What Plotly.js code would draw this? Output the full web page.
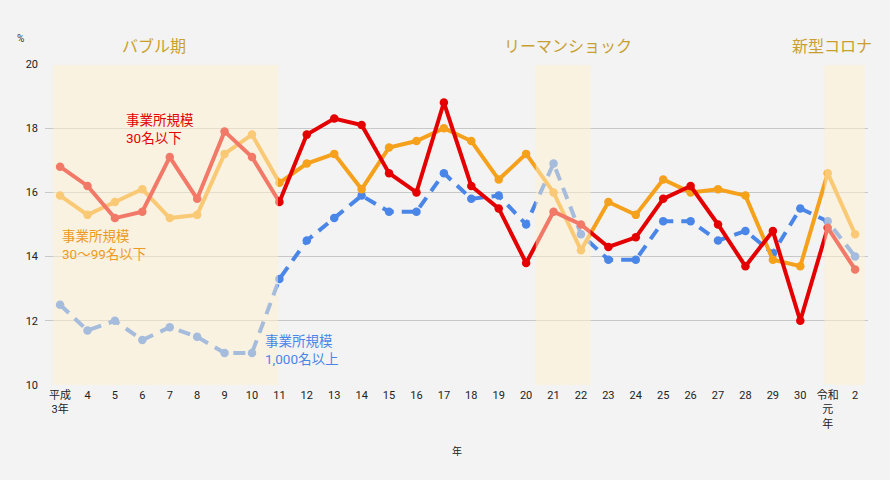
<!DOCTYPE html>
<html><head><meta charset="utf-8">
<script src="https://cdn.plot.ly/plotly-3.0.1.min.js"></script>
<style>html,body{margin:0;padding:0;background:#f3f3f3;}#chart{width:890px;height:480px;}</style>
</head><body><div id="chart"></div>
<script>
const years = ['平成<br>3年','4','5','6','7','8','9','10','11','12','13','14','15','16','17','18','19','20','21','22','23','24','25','26','27','28','29','30','令和<br>元<br>年','2'];
const small = [16.8,16.2,15.2,15.4,17.1,15.8,17.9,17.1,15.7,17.8,18.3,18.1,16.6,16.0,18.8,16.2,15.5,13.8,15.4,15.0,14.3,14.6,15.8,16.2,15.0,13.7,14.8,12.0,14.9,13.6];
const mid = [15.9,15.3,15.7,16.1,15.2,15.3,17.2,17.8,16.3,16.9,17.2,16.1,17.4,17.6,18.0,17.6,16.4,17.2,16.0,14.2,15.7,15.3,16.4,16.0,16.1,15.9,13.9,13.7,16.6,14.7];
const large = [12.5,11.7,12.0,11.4,11.8,11.5,11.0,11.0,13.3,14.5,15.2,15.9,15.4,15.4,16.6,15.8,15.9,15.0,16.9,14.7,13.9,13.9,15.1,15.1,14.5,14.8,14.1,15.5,15.1,14.0];
const seriesNames = ['事業所規模<br>30名以下','事業所規模<br>30〜99名以下','事業所規模<br>1,000名以上'];
const periodNames = ['バブル期','リーマンショック','新型コロナ'];

const FONT = "Roboto, 'Noto Sans CJK JP', sans-serif";
const RED = '#e40000', ORANGE = '#f5a11c', BLUE = '#4a86e8', GOLD = '#c9a030';

const traces = [
  {x: years, y: large, type:'scatter', mode:'lines+markers', name: seriesNames[2],
   line:{color:BLUE, width:4, dash:'12px,8px'}, marker:{color:BLUE, size:8.5}},
  {x: years, y: mid, type:'scatter', mode:'lines+markers', name: seriesNames[1],
   line:{color:ORANGE, width:4}, marker:{color:ORANGE, size:8.5}},
  {x: years, y: small, type:'scatter', mode:'lines+markers', name: seriesNames[0],
   line:{color:RED, width:4}, marker:{color:RED, size:8.5}}
];

const bandFill = 'rgba(255,242,208,0.5)';
const bands = [[-0.25, 7.95], [17.35, 19.35], [27.88, 29.35]];
const shapes = bands.map(b => ({type:'rect', xref:'x', yref:'y', x0:b[0], x1:b[1], y0:10, y1:19.97,
  fillcolor: bandFill, line:{width:0}, layer:'above'}));

// pixel helpers for annotation placement (plot area 45..868 x, 64..385 y)
const px = v => (v - 45) / 823;
const py = v => (385 - v) / 321;

const annotations = [
  {text: periodNames[0], x: px(154), y: py(46), xref:'paper', yref:'paper', showarrow:false,
   font:{family:FONT, size:16, color:GOLD}, xanchor:'center', yanchor:'middle'},
  {text: periodNames[1], x: px(568), y: py(46), xref:'paper', yref:'paper', showarrow:false,
   font:{family:FONT, size:16, color:GOLD}, xanchor:'center', yanchor:'middle'},
  {text: periodNames[2], x: px(832), y: py(46), xref:'paper', yref:'paper', showarrow:false,
   font:{family:FONT, size:16, color:GOLD}, xanchor:'center', yanchor:'middle'},
  {text: seriesNames[0], x: px(124), y: py(128.5), xref:'paper', yref:'paper', showarrow:false,
   font:{family:FONT, size:13.5, color:RED}, xanchor:'left', yanchor:'middle', align:'left'},
  {text: seriesNames[1], x: px(60), y: py(245), xref:'paper', yref:'paper', showarrow:false,
   font:{family:FONT, size:13.5, color:'#ee9a22'}, xanchor:'left', yanchor:'middle', align:'left'},
  {text: seriesNames[2], x: px(263), y: py(349.5), xref:'paper', yref:'paper', showarrow:false,
   font:{family:FONT, size:13.5, color:BLUE}, xanchor:'left', yanchor:'middle', align:'left'},
  {text: '%', x: px(20), y: py(38), xref:'paper', yref:'paper', showarrow:false,
   font:{family:FONT, size:10, color:'#333'}, xanchor:'center', yanchor:'middle'},
  {text: '年', x: px(457), y: py(451), xref:'paper', yref:'paper', showarrow:false,
   font:{family:FONT, size:10, color:'#222'}, xanchor:'center', yanchor:'middle'}
];

const layout = {
  width: 890, height: 480,
  margin: {l:45, r:22, t:64, b:95},
  paper_bgcolor: '#f3f3f3', plot_bgcolor: '#f3f3f3',
  showlegend: false,
  font: {family: FONT, size: 11, color: '#222'},
  xaxis: {type:'category', categoryorder:'array', categoryarray: years, range:[-0.55, 29.47],
    showgrid:false, zeroline:false, showline:false, ticks:'', tickfont:{size:11, color:'#222'}, ticklabelstandoff: 2},
  yaxis: {range:[10,20], dtick:2, tick0:10, showgrid:true, gridcolor:'#c8c8c8', gridwidth:1,
    zeroline:false, showline:false, ticks:'', tickfont:{size:11, color:'#222'}, ticklabelstandoff: 6},
  shapes: shapes,
  annotations: annotations
};

Plotly.newPlot('chart', traces, layout, {displayModeBar:false, staticPlot:true});
</script>
</body></html>
